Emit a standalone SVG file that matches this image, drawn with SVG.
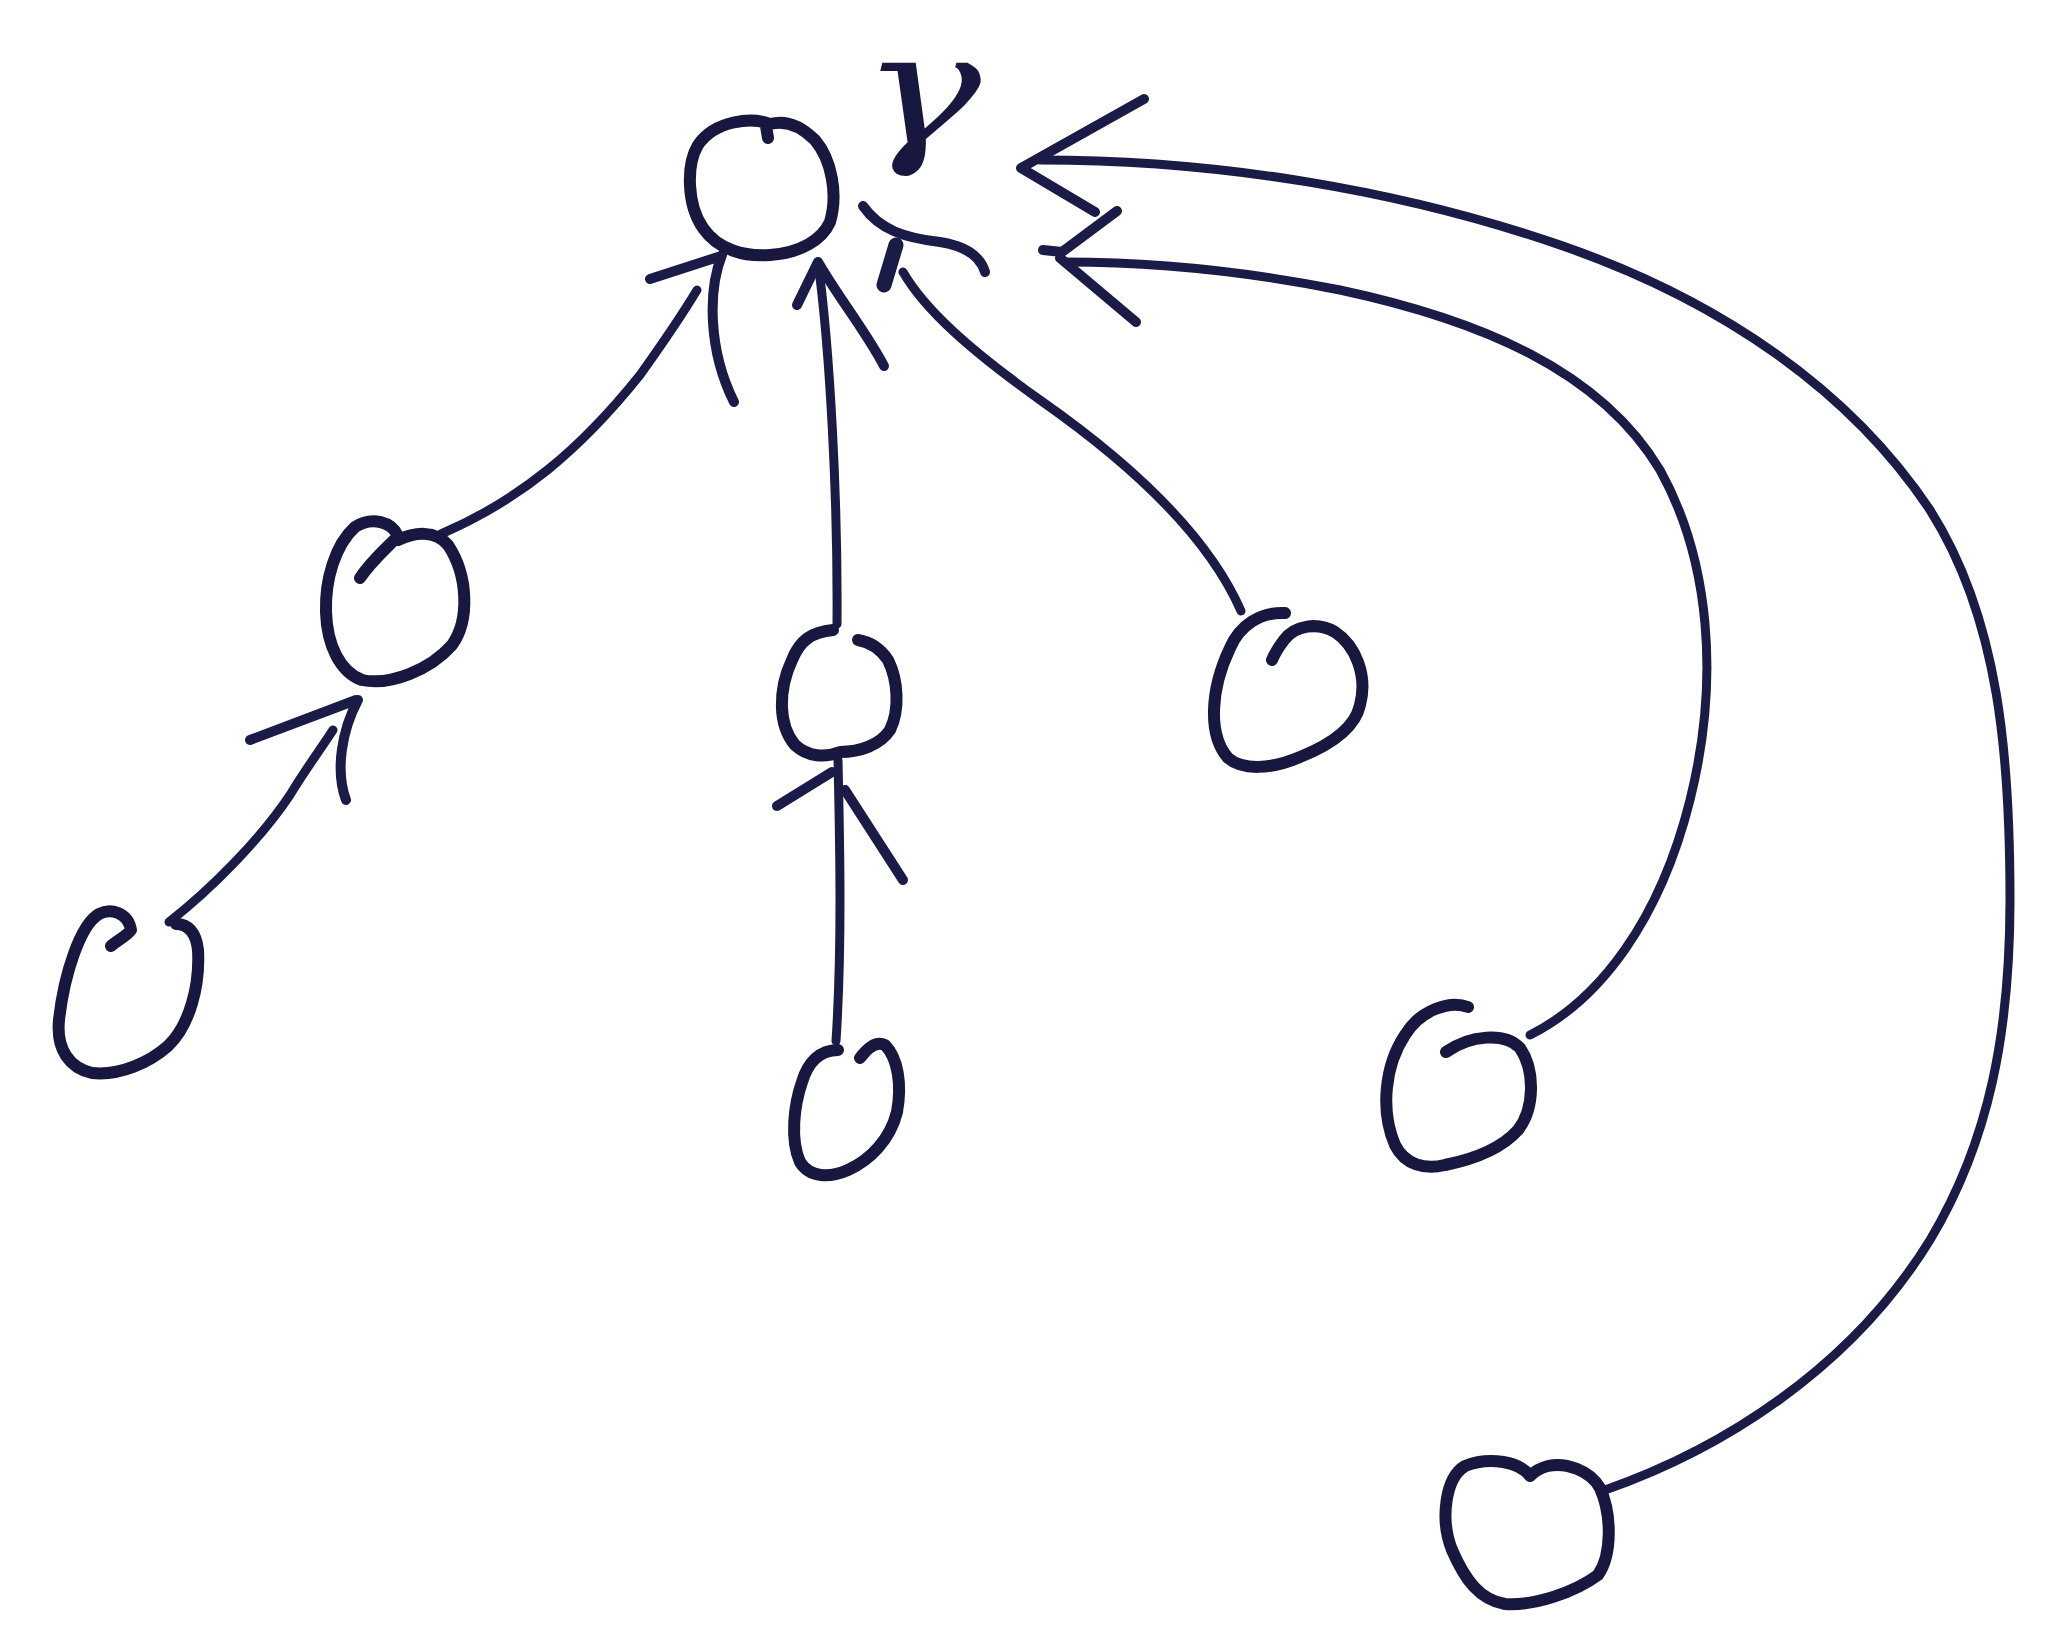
<svg xmlns="http://www.w3.org/2000/svg" width="2066" height="1640" viewBox="0 0 2066 1640">
<style>
.node{fill:none;stroke:#17173f;stroke-width:12;stroke-linecap:round;stroke-linejoin:round}
.edge{fill:none;stroke:#1b1b48;stroke-width:9;stroke-linecap:round;stroke-linejoin:round}
.head{fill:none;stroke:#1b1b48;stroke-width:10;stroke-linecap:round;stroke-linejoin:round}
.lbl{font-family:"DejaVu Serif",serif;font-style:italic;fill:#17173f}
</style>
<rect width="2066" height="1640" fill="#ffffff"/>
<g id="connectors">
  <g id="e-A-root">
    <path class="edge" d="M 441 534 C 520 500, 580 450, 640 375 C 665 340, 685 310, 697 290"/>
    <path class="head" d="M 650 279 L 718 257 M 722 255 C 708 290, 708 350, 734 402"/>
  </g>
  <g id="e-C-root">
    <path class="edge" d="M 837 624 C 838 500, 830 350, 818 262"/>
    <path class="head" d="M 797 305 L 818 262 C 840 300, 865 330, 884 366"/>
  </g>
  <g id="e-E-root">
    <path class="edge" d="M 1241 611 C 1210 540, 1140 470, 1040 400 C 970 350, 925 310, 903 272"/>
    <path class="head" d="M 863 206 C 880 230, 905 238, 940 242 C 965 246, 980 255, 985 272"/>
    <path class="head" style="stroke-width:15" d="M 896 245 L 884 285"/>
  </g>
  <g id="e-F-root">
    <path class="edge" d="M 1530 1035 C 1600 1000, 1660 920, 1690 800 C 1720 680, 1710 560, 1660 470 C 1600 370, 1480 320, 1340 290 C 1240 270, 1150 262, 1065 262"/>
    <path class="head" d="M 1117 211 L 1062 252 L 1043 250 M 1060 258 L 1136 322"/>
  </g>
  <g id="e-G-root">
    <path class="edge" d="M 1605 1490 C 1720 1450, 1850 1370, 1930 1240 C 1990 1140, 2010 1030, 2010 900 C 2010 760, 2000 620, 1930 510 C 1850 390, 1720 300, 1560 245 C 1400 190, 1220 160, 1040 160"/>
    <path class="head" d="M 1144 99 L 1021 168 L 1095 212"/>
  </g>
  <g id="e-B-A">
    <path class="edge" d="M 169 922 C 210 890, 260 840, 290 795 C 305 770, 320 750, 333 730"/>
    <path class="head" d="M 250 740 L 356 700 M 358 700 C 342 730, 335 770, 346 800"/>
  </g>
  <g id="e-D-C">
    <path class="edge" d="M 836 1041 C 842 950, 840 850, 838 760"/>
    <path class="head" d="M 777 806 L 832 772 M 845 790 L 903 880"/>
  </g>
</g>
<g id="root">
  <path class="node" d="M 770 124 C 752 117, 715 120, 698 145 C 686 165, 687 205, 703 228 C 718 250, 745 257, 770 255 C 800 253, 822 240, 830 222 C 838 195, 832 160, 815 140 C 800 125, 785 120, 770 124 M 766 126 L 768 138"/>
  <text class="lbl" font-size="155" text-anchor="middle" transform="translate(921,144) scale(1.3,1)">γ</text>
</g>
<g id="node-A">
  <path class="node" d="M 360 578 C 372 560, 390 545, 398 536 C 392 522, 372 516, 355 527 C 335 545, 325 580, 326 612 C 327 645, 340 672, 362 680 C 390 686, 430 670, 452 645 C 470 620, 468 575, 448 545 C 435 530, 415 532, 398 540"/>
</g>
<g id="node-B">
  <path class="node" d="M 111 946 C 118 940, 128 935, 131 930 C 128 912, 110 908, 99 914 C 80 925, 64 975, 59 1020 C 56 1050, 70 1068, 92 1073 C 120 1076, 150 1062, 168 1046 C 190 1025, 200 985, 198 950 C 196 932, 188 924, 176 924"/>
</g>
<g id="node-C">
  <path class="node" d="M 833 630 C 812 632, 800 640, 792 660 C 778 690, 778 725, 795 745 C 808 757, 825 758, 840 752 C 860 752, 880 745, 890 730 C 900 710, 898 680, 888 660 C 880 648, 870 642, 858 640"/>
</g>
<g id="node-D">
  <path class="node" d="M 838 1050 C 820 1050, 808 1062, 802 1082 C 794 1105, 790 1140, 800 1162 C 810 1178, 830 1178, 848 1170 C 870 1160, 890 1140, 897 1112 C 902 1085, 898 1058, 885 1045 C 875 1040, 866 1050, 860 1058"/>
</g>
<g id="node-E">
  <path class="node" d="M 1285 613 C 1260 612, 1240 625, 1230 648 C 1210 690, 1208 735, 1228 758 C 1242 770, 1270 770, 1300 757 C 1330 745, 1355 728, 1360 705 C 1368 675, 1355 645, 1335 632 C 1318 622, 1295 625, 1284 640 C 1278 648, 1274 655, 1272 660"/>
</g>
<g id="node-F">
  <path class="node" d="M 1468 1007 C 1450 1000, 1420 1010, 1405 1035 C 1385 1065, 1380 1110, 1395 1145 C 1405 1165, 1425 1170, 1445 1165 C 1470 1160, 1500 1150, 1518 1130 C 1535 1108, 1535 1070, 1520 1048 C 1505 1032, 1470 1035, 1446 1052"/>
</g>
<g id="node-G">
  <path class="node" d="M 1530 1476 C 1520 1462, 1490 1456, 1465 1466 C 1445 1478, 1440 1520, 1452 1550 C 1465 1580, 1480 1600, 1505 1604 C 1535 1606, 1575 1592, 1598 1575 C 1612 1555, 1612 1515, 1600 1488 C 1590 1470, 1565 1462, 1548 1466 C 1540 1468, 1534 1472, 1530 1476"/>
</g>
</svg>
